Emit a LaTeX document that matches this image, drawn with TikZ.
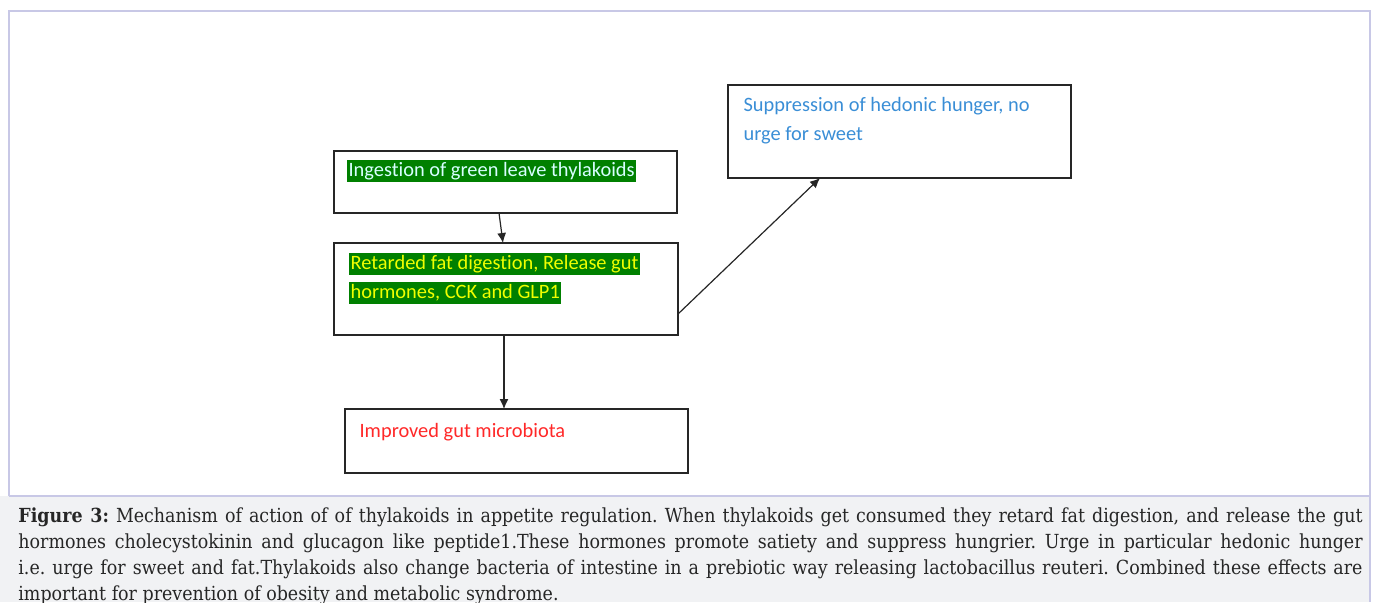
\documentclass[tikz,border=0pt]{standalone}
\usepackage{xcolor}
\usepackage{fontspec}
\setmainfont{DejaVu Serif Condensed}
\newfontfamily\boxfont[Ligatures=NoCommon]{Carlito}
\usepackage{tikz}
\usetikzlibrary{arrows.meta}
\usetikzlibrary{calc}

\definecolor{framelav}{RGB}{200,200,230}
\definecolor{capgray}{RGB}{241,242,244}
\definecolor{hlgreen}{RGB}{0,128,0}
\definecolor{palecyan}{RGB}{215,255,255}
\definecolor{hlyellow}{RGB}{240,255,0}
\definecolor{textblue}{RGB}{58,142,214}
\definecolor{textred}{RGB}{255,40,40}

\begin{document}
\begin{tikzpicture}[x=0.5pt,y=-0.5pt,
   box/.style={draw=black!85,line width=0.6pt,inner sep=0pt,outer sep=0pt},
   boxtext/.style={anchor=west,inner sep=0.6pt,font=\boxfont\fontsize{10.2}{12}\selectfont,text height=7.6pt,text depth=2.4pt},
   hl/.style={boxtext,fill=hlgreen},
   link/.style={black!85,line width=0.6pt,-{Latex[length=5pt,width=4.5pt]}}]
\useasboundingbox (0,0) rectangle (1376,602);
\clip (0,0) rectangle (1376,602);
%% frame and caption panel
\fill[capgray] (0,496) rectangle (1370,602);
\draw[framelav,line width=0.8pt] (9,496) -- (9,11) -- (1370,11) -- (1370,602);
\draw[framelav,line width=0.8pt] (9,496) -- (1370,496);
%% boxes
\node[box,minimum width=171.5pt,minimum height=31pt] (ingest) at (505.5,182) {};
\node[box,minimum width=172pt,minimum height=46pt] (retard) at (506,289) {};
\node[box,minimum width=171.5pt,minimum height=32pt] (microbiota) at (516.5,441) {};
\node[box,minimum width=171.5pt,minimum height=46.5pt] (hedonic) at (899.5,131.5) {};
%% texts
\node[hl,text=palecyan] (ingestA) at (347,171) {Ingestion of green leave thylakoids};
\node[hl,text=hlyellow] (retardA) at (349,264) {Retarded fat digestion, Release gut};
\node[hl,text=hlyellow] (retardB) at (349,293) {hormones, CCK and GLP1};
\node[boxtext,text=textblue] (hedonicA) at (742,106) {Suppression of hedonic hunger, no};
\node[boxtext,text=textblue] (hedonicB) at (742,135) {urge for sweet};
\node[boxtext,text=textred] (microA) at (358,432) {Improved gut microbiota};
%% arrows
\draw[link] ([xshift=-3.25pt]ingest.south) -- ([xshift=-1.5pt]retard.north);
\draw[link] ([xshift=-1pt]retard.south) -- ([xshift=-6.25pt]microbiota.north);
\draw[link] ([yshift=-12.5pt]retard.east) -- ([xshift=-39.75pt]hedonic.south);
%% caption
\node[anchor=north west,inner sep=0pt,text width=672pt,align=justify,
      font=\fontsize{9.7}{13}\selectfont\frenchspacing,text=black!85] (caption) at (18,507)
 {\textbf{Figure 3:} Mechanism of action of of thylakoids in appetite regulation. When thylakoids get consumed they retard fat digestion, and release the gut\linebreak
 hormones cholecystokinin and glucagon like peptide1.These hormones promote satiety and suppress hungrier. Urge in particular hedonic hunger\linebreak
 i.e. urge for sweet and fat.Thylakoids also change bacteria of intestine in a prebiotic way releasing lactobacillus reuteri. Combined these effects are\linebreak
 important for prevention of obesity and metabolic syndrome.};
\end{tikzpicture}
\end{document}
